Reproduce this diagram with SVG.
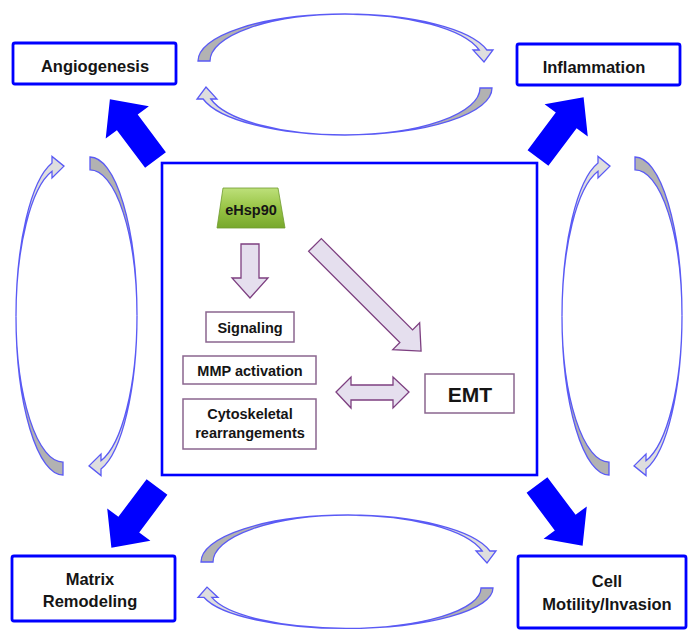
<svg xmlns="http://www.w3.org/2000/svg" xmlns:xlink="http://www.w3.org/1999/xlink" width="689" height="630" viewBox="0 0 689 630">
  <style>
    .outer { fill: #ffffff; stroke: #0000ff; stroke-width: 2.8; }
    .inner { fill: #ffffff; stroke: #8a668f; stroke-width: 1.5; }
    .lbl { font-family: "Liberation Sans", Arial, sans-serif; font-weight: bold; fill: #151515; text-anchor: middle; }
    .big { font-size: 16.5px; }
    .small { font-size: 14.5px; }
    .blue { fill: #0000ff; }
    .lav { fill: #e5dfee; stroke: #7d3f80; stroke-width: 1.3; stroke-linejoin: miter; }
    .cdark { fill: #b2b2b2; stroke: #5a5af5; stroke-width: 1.3; vector-effect: non-scaling-stroke; }
    .clight { fill: #dedede; stroke: #5a5af5; stroke-width: 1.3; vector-effect: non-scaling-stroke; }
  </style>
  <defs>
    <linearGradient id="green" x1="0" y1="0" x2="0" y2="1">
      <stop offset="0" stop-color="#bde07a"/>
      <stop offset="0.5" stop-color="#98c445"/>
      <stop offset="1" stop-color="#77a82c"/>
    </linearGradient>
    <path id="blockArrow" d="M0,-13 L47,-13 L47,-27 L76,0 L47,27 L47,13 L0,13 Z"/>
    <g id="curvedArrow">
      <path class="cdark" d="M0,0 A147,47 0 0 1 147,-47 A135,47 0 0 0 12,0 Z"/>
      <path class="clight" d="M147,-47 A146,47 0 0 1 288.9,-11 L295,-11 L286,1 L275,-11 L281.2,-11 A138,47 0 0 0 147,-47 Z"/>
    </g>
  </defs>

  <rect width="689" height="630" fill="#ffffff"/>

  <!-- central container -->
  <g id="center-box">
    <rect x="162" y="163" width="375" height="312" fill="#ffffff" stroke="#0000ff" stroke-width="2.6"/>
  </g>

  <!-- connectors -->
  <g id="connectors">
    <!-- blue block arrows from center -->
    <use href="#blockArrow" class="blue" transform="translate(155.5,160) rotate(-126.87)"/>
    <use href="#blockArrow" class="blue" transform="translate(538,158) rotate(-53.13)"/>
    <use href="#blockArrow" class="blue" transform="translate(157,487) rotate(126.87)"/>
    <use href="#blockArrow" class="blue" transform="translate(537,485) rotate(53.13)"/>

    <!-- curved cycle arrows -->
    <use href="#curvedArrow" transform="translate(198,61)"/>
    <use href="#curvedArrow" transform="translate(492,88) rotate(180)"/>
    <use href="#curvedArrow" transform="translate(201,562)"/>
    <use href="#curvedArrow" transform="translate(493,588) rotate(180) scale(1,0.86)"/>
    <use href="#curvedArrow" transform="translate(63,475) rotate(-90) scale(1.08,1)"/>
    <use href="#curvedArrow" transform="translate(90,157) rotate(90) scale(1.08,1)"/>
    <use href="#curvedArrow" transform="translate(609,475) rotate(-90) scale(1.08,1)"/>
    <use href="#curvedArrow" transform="translate(635,157) rotate(90) scale(1.08,1)"/>

    <!-- lavender arrows inside -->
    <polygon class="lav" points="241,244 259,244 259,278 268,278 250,298 232,278 241,278"/>
    <polygon class="lav" transform="translate(315,245) rotate(45)" points="0,-9 129,-9 129,-19 150,0 129,19 129,9 0,9"/>
    <polygon class="lav" points="336,392 351,377 351,385 393,385 393,377 409,392 393,408 393,400 351,400 351,408"/>
  </g>

  <!-- outer nodes -->
  <g id="angiogenesis">
    <rect class="outer" x="13" y="43" width="163" height="41" rx="2"/>
    <text class="lbl big" x="95" y="72">Angiogenesis</text>
  </g>
  <g id="inflammation">
    <rect class="outer" x="517" y="44" width="163" height="41" rx="2"/>
    <text class="lbl big" x="594" y="73">Inflammation</text>
  </g>
  <g id="matrix-remodeling">
    <rect class="outer" x="12" y="556" width="163" height="65" rx="2"/>
    <text class="lbl big" x="90" y="585">Matrix</text>
    <text class="lbl big" x="90" y="607">Remodeling</text>
  </g>
  <g id="cell-motility">
    <rect class="outer" x="518" y="556" width="168" height="72" rx="2"/>
    <text class="lbl big" x="607" y="587">Cell</text>
    <text class="lbl big" x="607" y="610">Motility/Invasion</text>
  </g>

  <!-- inner nodes -->
  <g id="ehsp90">
    <polygon points="223,188 278,188 285,228 217,228" fill="url(#green)" stroke="#6f9a2e" stroke-width="0.8"/>
    <text class="lbl" x="251" y="215" font-size="14.5">eHsp90</text>
  </g>
  <g id="signaling">
    <rect class="inner" x="206" y="312" width="88" height="30"/>
    <text class="lbl small" x="250" y="333">Signaling</text>
  </g>
  <g id="mmp-activation">
    <rect class="inner" x="183" y="356" width="133" height="28"/>
    <text class="lbl small" x="250" y="376">MMP activation</text>
  </g>
  <g id="cytoskeletal">
    <rect class="inner" x="183" y="399" width="133" height="50"/>
    <text class="lbl small" x="250" y="419">Cytoskeletal</text>
    <text class="lbl small" x="250" y="438">rearrangements</text>
  </g>
  <g id="emt">
    <rect class="inner" x="425" y="374" width="89" height="39"/>
    <text class="lbl" x="470" y="402" font-size="21">EMT</text>
  </g>
</svg>
